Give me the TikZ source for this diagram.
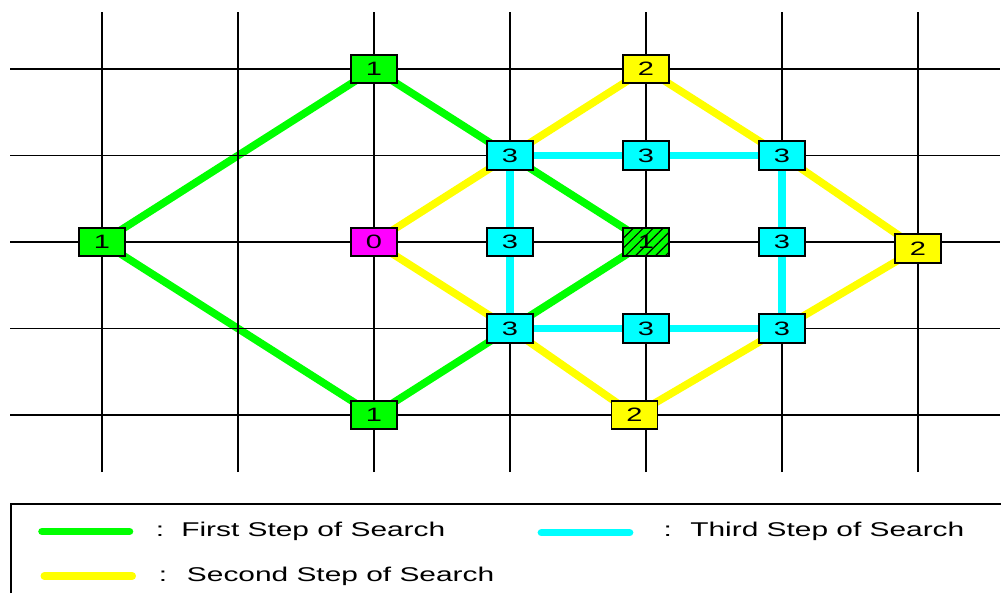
\documentclass[tikz,border=0pt]{standalone}
\usepackage{fontspec}
\setmainfont{Liberation Sans}[FakeStretch=1.5]
\usetikzlibrary{patterns.meta}

\definecolor{stepone}{RGB}{0,255,0}
\definecolor{steptwo}{RGB}{255,255,0}
\definecolor{stepthree}{RGB}{0,255,255}
\definecolor{origin}{RGB}{255,0,255}

\pgfdeclarelayer{bg}
\pgfdeclarelayer{mid}
\pgfsetlayers{bg,mid,main}

\begin{document}
\begin{tikzpicture}[x=4.08cm, y=2.595cm,
				    cell/.style={draw, line width=1.6pt, fill=none,
				    			 minimum width=1.38cm, minimum height=0.85cm,
				    			 inner sep=0pt, text centered, text=black,
				    			 font=\fontsize{16.5}{18}\selectfont},
				    first/.style={line width=6.5pt, draw=stepone},
				    second/.style={line width=6.5pt, draw=steptwo},
				    third/.style={line width=6.5pt, draw=stepthree},
				    legtext/.style={anchor=base west, inner sep=0pt,
				    			 font=\fontsize{17}{20}\selectfont}]
	\useasboundingbox (-0.75,-2.058) rectangle (6.61,4.798);

	% search cells
	\node[cell, fill=origin] (u0) at (2, 2) {0};
	\node[cell, fill=stepone] (u1) at (2, 4) {1};
	\node[cell, fill=stepone] (u2) at (0, 2) {1};
	\node[cell, fill=stepone] (u3) at (2, 0) {1};
	\node[cell, fill=stepone,
		  postaction={pattern={Lines[angle=45, distance=6pt, line width=1pt]}}]
		  (u4) at (4, 2) {1};
	\node[cell, fill=steptwo] (u5) at (4, 4) {2};
	\node[cell, fill=steptwo] (u6) at (6, 1.925) {2};
	\node[cell, fill=steptwo] (u7) at (3.915, 0) {2};
	\node[cell, fill=stepthree] (u8) at (3, 3) {3};
	\node[cell, fill=stepthree] (u9) at (3, 2) {3};
	\node[cell, fill=stepthree] (u10) at (3, 1) {3};
	\node[cell, fill=stepthree] (u11) at (4, 3) {3};
	\node[cell, fill=stepthree] (u12) at (4, 1) {3};
	\node[cell, fill=stepthree] (u13) at (5, 3) {3};
	\node[cell, fill=stepthree] (u14) at (5, 2) {3};
	\node[cell, fill=stepthree] (u15) at (5, 1) {3};

	% first and second step under the grid
	\begin{pgfonlayer}{bg}
	\path[first] 	(u2.center)  edge   (u1.center);
	\path[first] 	(u2.center)  edge   (u3.center);
	\path[first] 	(u1.center)  edge   (u8.center);
	\path[first] 	(u8.center)  edge   (u4.center);
	\path[first] 	(u4.center)  edge   (u10.center);
	\path[first] 	(u10.center) edge   (u3.center);

	\path[second] 	(u0.center)  edge   (u8.center);
	\path[second] 	(u0.center)  edge   (u10.center);
	\path[second] 	(u8.center)  edge   (u5.center);
	\path[second] 	(u5.center)  edge   (u13.center);
	\path[second] 	(u13.center) edge   (u6.center);
	\path[second] 	(u6.center)  edge   (u15.center);
	\path[second] 	(u15.center) edge   (u7.center);
	\path[second] 	(u7.center)  edge   (u10.center);
	\end{pgfonlayer}

	% grid, then third step on top of it
	\begin{pgfonlayer}{mid}
	\foreach \i in {0,...,6}
		\draw[line width=1.5pt] (\i, -0.659) -- (\i, 4.659);
	\foreach \j in {0,...,4}
		\draw[line width=1.5pt] (-0.676, \j) -- (6.603, \j);

	\path[third] 	(u8.center)  edge   (u11.center);
	\path[third] 	(u11.center) edge   (u13.center);
	\path[third] 	(u10.center) edge   (u12.center);
	\path[third] 	(u12.center) edge   (u15.center);
	\path[third] 	(u8.center)  edge   (u9.center);
	\path[third] 	(u9.center)  edge   (u10.center);
	\path[third] 	(u13.center) edge   (u14.center);
	\path[third] 	(u14.center) edge   (u15.center);
	\end{pgfonlayer}

	% legend
	\draw[line width=1.5pt] (-0.669, -2.058) |- (6.61, -1.029);

	\coordinate (l1a) at (-0.441, -1.345);
	\coordinate (l1b) at (0.202, -1.345);
	\coordinate (l2a) at (-0.424, -1.861);
	\coordinate (l2b) at (0.222, -1.861);
	\coordinate (l3a) at (3.231, -1.36);
	\coordinate (l3b) at (3.879, -1.36);
	\draw[first, line cap=round] (l1a) -- (l1b);
	\draw[second, line cap=round] (l2a) -- (l2b);
	\draw[third, line cap=round] (l3a) -- (l3b);

	\node[legtext, anchor=base] (c1) at (0.426, -1.407) {:};
	\node[legtext] (t1) at (0.581, -1.407) {First Step of Search};
	\node[legtext, anchor=base] (c2) at (0.449, -1.927) {:};
	\node[legtext] (t2) at (0.623, -1.927) {Second Step of Search};
	\node[legtext, anchor=base] (c3) at (4.159, -1.407) {:};
	\node[legtext] (t3) at (4.324, -1.407) {Third Step of Search};

\end{tikzpicture}
\end{document}
